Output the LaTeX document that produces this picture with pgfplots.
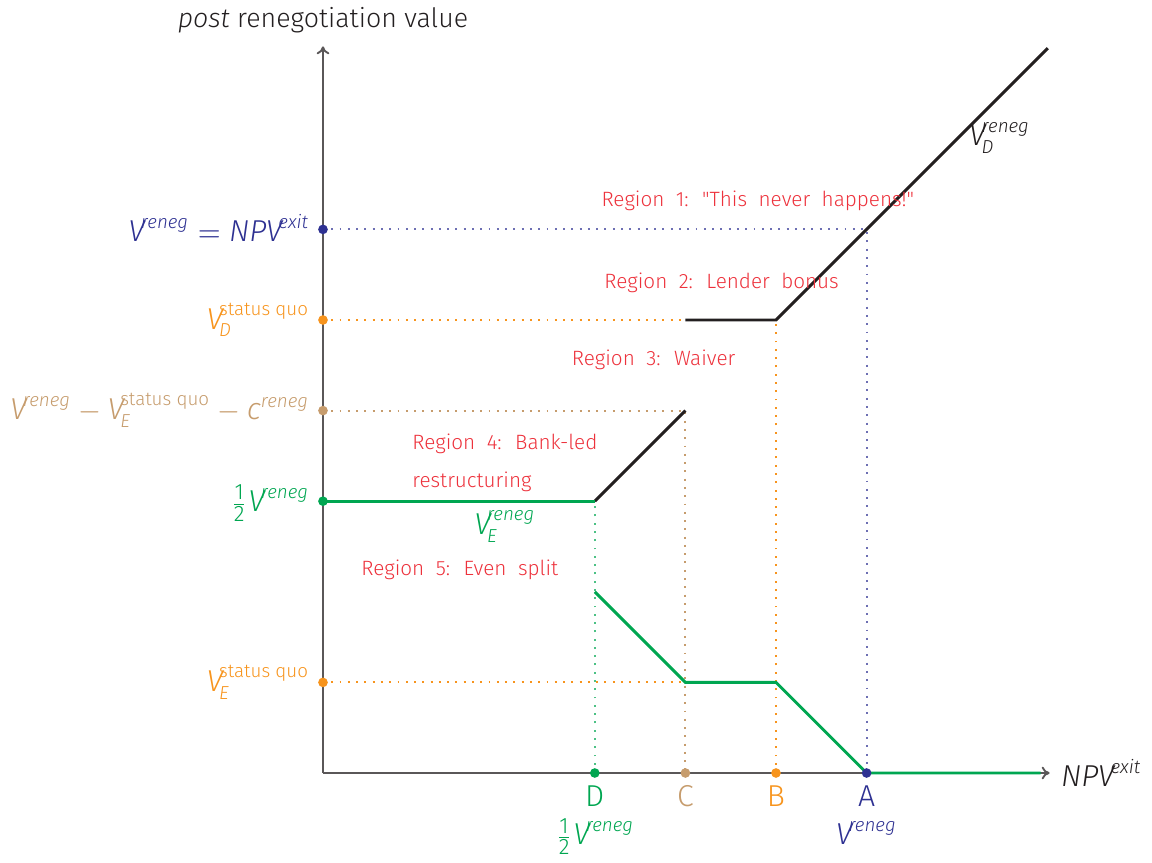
\documentclass[border=0pt]{standalone}
\usepackage{pgfplots}
\pgfplotsset{compat=1.18}
\usetikzlibrary{arrows.meta}
\usepackage{amsmath}
\usepackage{fontspec}
\setmainfont{Fira Sans}[UprightFont={* Light},ItalicFont={* Light Italic}]
\definecolor{cblue}{RGB}{46,49,146}
\definecolor{corange}{RGB}{247,148,29}
\definecolor{ctan}{RGB}{198,156,109}
\definecolor{cgreen}{RGB}{0,166,81}
\definecolor{cred}{RGB}{237,50,60}
\definecolor{cdark}{RGB}{35,31,32}
\DeclareMathSizes{9.5}{9.5}{5.9}{4.5}
\newcommand{\iv}[1]{\text{\itshape #1}}
\newcommand{\up}[1]{\text{\upshape #1}}
\newcommand{\lab}{\fontsize{9.5}{11}\selectfont}
\newcommand{\reg}{\fontsize{6.5}{8}\selectfont\spaceskip=3.6pt plus 0.5pt}
\newcommand{\tk}{\hspace{-1.2pt}}
\newcommand{\dq}{{\XeTeXglyph\XeTeXcharglyph"22\relax}}
\newcommand{\half}{\frac{\up{\fontsize{7}{7}\selectfont 1}}{\up{\fontsize{7}{7}\selectfont 2}}}
\begin{document}
\begin{tikzpicture}
\begin{axis}[x=1cm,y=1cm,xmin=0,xmax=8.02,ymin=0,ymax=8.02,
  axis lines=left, axis line style={line width=0.6pt,cdark!75,-{To[length=2.5pt,width=4pt]}},
  xtick=\empty, ytick=\empty, clip=false]
% dotted guides
\addplot[cblue!70, dotted, line width=0.6pt] coordinates {(0,6) (6,6) (6,0)};
\addplot[corange, dotted, line width=0.6pt] coordinates {(0,5) (4,5)};
\addplot[corange, dotted, line width=0.6pt] coordinates {(5,0) (5,5)};
\addplot[corange, dotted, line width=0.6pt] coordinates {(0,1) (4,1)};
\addplot[ctan, dotted, line width=0.6pt] coordinates {(0,4) (4,4) (4,0)};
\addplot[cgreen!70, dotted, line width=0.6pt] coordinates {(3,0) (3,3)};
% value lines
\addplot[cdark, line width=0.9pt] coordinates {(3,3) (4,4)};
\addplot[cdark, line width=0.9pt] coordinates {(4,5) (5,5) (8,8)};
\addplot[cgreen, line width=0.9pt] coordinates {(0,3) (3,3)};
\addplot[cgreen, line width=0.9pt] coordinates {(3,2) (4,1) (5,1) (6,0) (7.92,0)};
% dots
\addplot[only marks, mark=*, mark size=1.3pt, cblue] coordinates {(0,6) (6,0)};
\addplot[only marks, mark=*, mark size=1.3pt, corange] coordinates {(0,5) (0,1) (5,0)};
\addplot[only marks, mark=*, mark size=1.3pt, ctan] coordinates {(0,4) (4,0)};
\addplot[only marks, mark=*, mark size=1.3pt, cgreen] coordinates {(0,3) (3,0)};
% y labels
\node[anchor=east, inner sep=0pt, text=cblue, font=\lab] at (axis cs:-0.14,6.02) {$\iv{V}^{\tk\iv{reneg}} = \iv{NPV}^{\tk\iv{exit}}$};
\node[anchor=east, inner sep=0pt, text=corange, font=\lab] at (axis cs:-0.14,5.0) {$\iv{V}^{\tk\up{status quo}}_{\tk\iv{D}}$};
\node[anchor=east, inner sep=0pt, text=ctan, font=\lab] at (axis cs:-0.14,4.0) {$\iv{V}^{\tk\iv{reneg}} - \iv{V}^{\tk\up{status quo}}_{\tk\iv{E}} - \iv{c}^{\iv{reneg}}$};
\node[anchor=east, inner sep=0pt, text=cgreen, font=\lab] at (axis cs:-0.14,2.98) {$\half\iv{V}^{\tk\iv{reneg}}$};
\node[anchor=east, inner sep=0pt, text=corange, font=\lab] at (axis cs:-0.14,1.0) {$\iv{V}^{\tk\up{status quo}}_{\tk\iv{E}}$};
% x labels
\node[text=cgreen, font=\lab] at (axis cs:3,-0.26) {D};
\node[text=ctan, font=\lab] at (axis cs:4,-0.26) {C};
\node[text=corange, font=\lab] at (axis cs:5,-0.26) {B};
\node[text=cblue, font=\lab] at (axis cs:6,-0.26) {A};
\node[text=cgreen, font=\lab] at (axis cs:3,-0.70) {$\half\iv{V}^{\tk\iv{reneg}}$};
\node[text=cblue, font=\lab] at (axis cs:6,-0.66) {$\iv{V}^{\tk\iv{reneg}}$};
% axis titles
\node[anchor=west, inner sep=0pt, text=cdark, font=\lab] at (axis cs:8.14,0) {$\iv{NPV}^{\tk\iv{exit}}$};
\node[text=cdark, font=\fontsize{8.4}{10}\selectfont] at (axis cs:0,8.31) {\textit{post} renegotiation value};
% curve labels
\node[text=cdark, font=\lab] at (axis cs:7.47,7.01) {$\iv{V}^{\tk\iv{reneg}}_{\tk\iv{D}}$};
\node[text=cgreen, font=\lab] at (axis cs:2.01,2.72) {$\iv{V}^{\tk\iv{reneg}}_{\tk\iv{E}}$};
% regions
\node[text=cred, font=\reg] at (axis cs:4.80,6.32) {Region 1: \dq This never happens!\dq};
\node[text=cred, font=\reg] at (axis cs:4.40,5.41) {Region 2: Lender bonus};
\node[text=cred, font=\reg] at (axis cs:3.65,4.56) {Region 3: Waiver};
\node[anchor=west, inner sep=0pt, text=cred, font=\reg] at (axis cs:0.98,3.63) {Region 4: Bank-led};
\node[anchor=west, inner sep=0pt, text=cred, font=\reg] at (axis cs:0.98,3.21) {restructuring};
\node[text=cred, font=\reg] at (axis cs:1.51,2.24) {Region 5: Even split};
\coordinate (bl) at (axis cs:-3.565,-0.993);
\coordinate (tr) at (axis cs:9.15,8.532);
\end{axis}
\pgfresetboundingbox
\useasboundingbox (bl) rectangle (tr);
\end{tikzpicture}
\end{document}
